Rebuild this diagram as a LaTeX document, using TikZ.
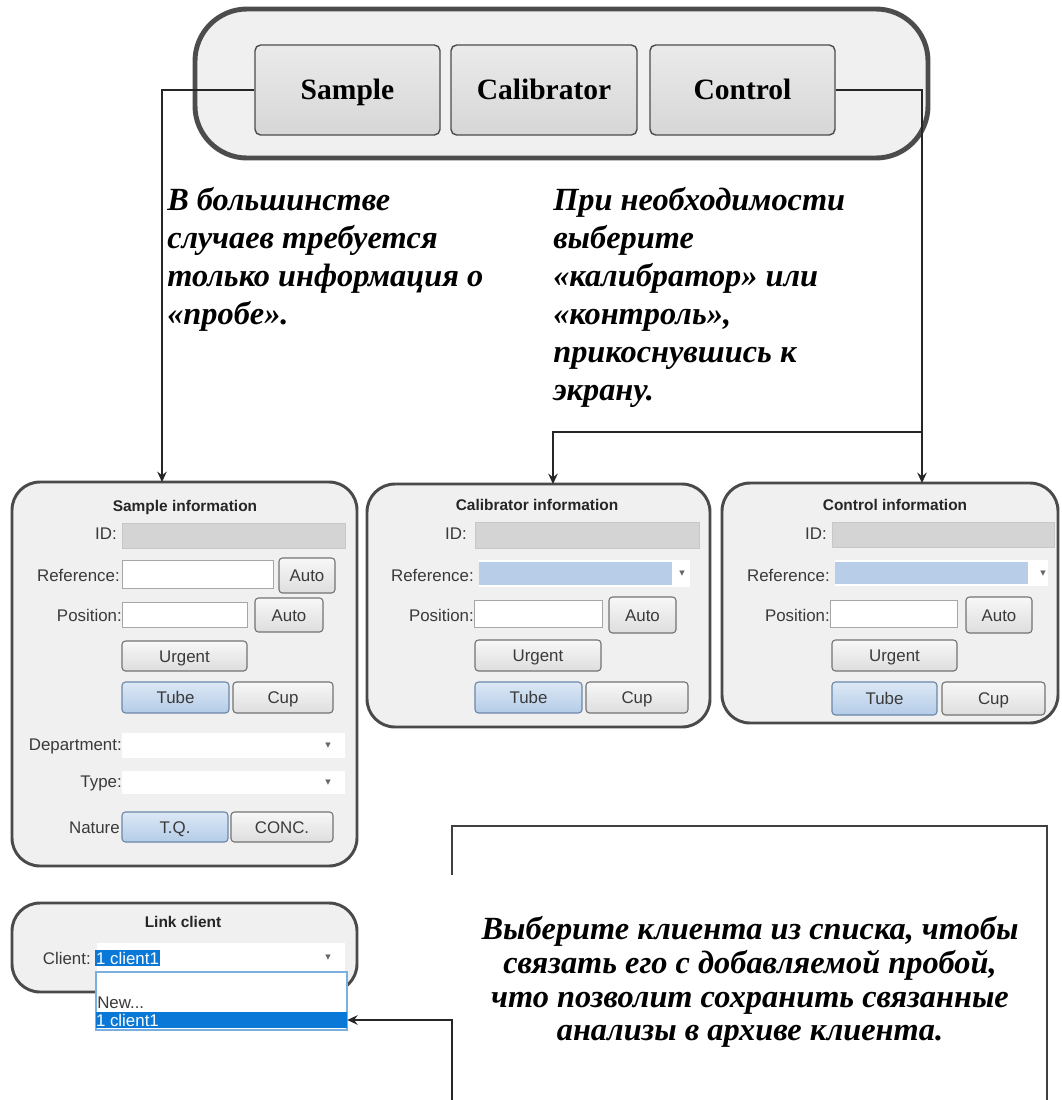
\documentclass[tikz,border=0pt]{standalone}
\usepackage{fontspec}
\setmainfont{Liberation Serif}
\newfontfamily\uifont{Liberation Sans}
\newfontfamily\djvfont{DejaVu Sans}
\usetikzlibrary{arrows.meta}
\definecolor{panelgray}{HTML}{F0F0F0}
\definecolor{paneledge}{HTML}{4A4A4A}
\definecolor{uitext}{HTML}{3A3A3A}
\definecolor{idgray}{HTML}{D4D4D4}
\definecolor{selblue}{HTML}{B7CDE8}
\definecolor{btnbluetop}{HTML}{DCE8F5}
\definecolor{btnbluebot}{HTML}{B4CCE8}
\definecolor{btnblueedge}{HTML}{6B87A8}
\definecolor{listblue}{HTML}{7AB0E0}
\definecolor{hlblue}{HTML}{0A78D7}

\begin{document}
\begin{tikzpicture}[
  x=0.025cm, y=-0.025cm,
  sz/.style 2 args={minimum width=#1*0.025cm, minimum height=#2*0.025cm},
  ui/.style={font=\uifont\fontsize{12}{14}\selectfont, text=uitext},
  panel/.style={draw=paneledge, line width=2.1pt, rounded corners=0.7cm, fill=panelgray, inner sep=0pt},
  ttl/.style={font=\uifont\bfseries\fontsize{11}{13}\selectfont, text=black!85, inner sep=0pt},
  lbl/.style={ui, anchor=east, inner sep=0pt},
  field/.style={ui, draw=black!35, fill=white, inner sep=0pt, line width=0.6pt},
  idfield/.style={field, fill=idgray, draw=black!22},
  bluefield/.style={field, draw=none, fill=selblue},
  openfield/.style={field, draw=none},
  btn/.style={ui, draw=black!55, line width=0.8pt, rounded corners=2.5pt, top color=black!3, bottom color=black!13, inner sep=0pt, text height=8.6pt, text depth=0pt},
  bluebtn/.style={btn, draw=btnblueedge, top color=btnbluetop, bottom color=btnbluebot},
  tab/.style={draw=black!70, line width=1pt, rounded corners=4pt, top color=black!8, bottom color=black!16, font=\bfseries\fontsize{21}{24}\selectfont, inner sep=0pt, text height=13.9pt, text depth=0pt},
  note/.style={font=\bfseries\itshape\fontsize{23}{27}\selectfont, align=left, inner sep=0pt, anchor=north west},
  drop/.style={font=\djvfont\fontsize{5}{5}\selectfont, text=black!60, inner sep=0pt},
  arrow/.style={-{Stealth[length=2.6mm,width=2.4mm,inset=0.9mm]}, line width=0.9pt, draw=black!85},
  frame/.style={draw=black!75, line width=1pt}
]
\useasboundingbox (0,0) rectangle (1061,1100);

% top selector
\node[draw=black!70, line width=3.5pt, rounded corners=1.3cm, fill=panelgray, sz={733}{149}] (toppanel) at (561.5,83.5) {};
\node[tab, sz={185}{90}] (sample) at (347.5,90) {Sample};
\node[tab, sz={186}{90}] (calibrator) at (544,90) {Calibrator};
\node[tab, sz={185}{90}] (control) at (742.5,90) {Control};

% notes
\node[note] (samplenote) at (167,187) {В большинстве\\случаев требуется\\только информация о\\«пробе».};
\node[note] (choicenote) at (553,187) {При необходимости\\выберите\\«калибратор» или\\«контроль»,\\прикоснувшись к\\экрану.};

% sample information
\node[panel, sz={345}{384}] (sampleinfo) at (184.5,674) {};
\node[ttl] (stitle) at (185,507) {Sample information};
\node[lbl] (sidl) at (117,534) {ID:};
\node[idfield, sz={223}{25}] (sid) at (233.5,535.5) {};
\node[lbl] (srefl) at (120,575) {Reference:};
\node[field, sz={151}{28}] (sref) at (197.5,574) {};
\node[btn, sz={56}{35}] (srefauto) at (307,575.5) {Auto};
\node[lbl] (sposl) at (122,615) {Position:};
\node[field, sz={125}{25}] (spos) at (184.5,614.5) {};
\node[btn, sz={68}{34}] (sposauto) at (289,615) {Auto};
\node[btn, sz={125}{30}] (surgent) at (184.5,656) {Urgent};
\node[bluebtn, sz={107}{31}] (stube) at (175.5,697.5) {Tube};
\node[btn, sz={100}{31}] (scup) at (283,697.5) {Cup};
\node[lbl] (sdeptl) at (122,746) {Department:};
\node[openfield, sz={223}{25}] (sdept) at (233.5,745.5) {};
\node[drop] (sdeptd) at (328,746) {▼};
\node[lbl] (stypel) at (122,783) {Type:};
\node[openfield, sz={223}{23}] (stype) at (233.5,782.5) {};
\node[drop] (stype) at (328,783) {▼};
\node[lbl] (snatl) at (120,828) {Nature};
\node[bluebtn, sz={106}{30}] (stq) at (175,827) {T.Q.};
\node[btn, sz={102}{30}] (sconc) at (282,827) {CONC.};

% calibrator information
\node[panel, sz={343}{243}] (calinfo) at (538.5,605.5) {};
\node[ttl] (ctitle) at (537,505) {Calibrator information};
\node[lbl] (cidl) at (467,534) {ID:};
\node[idfield, sz={224}{26}] (cid) at (587,535) {};
\node[lbl] (crefl) at (474,575) {Reference:};
\node[openfield, sz={211}{27}] (crefbg) at (584.5,573.5) {};
\node[bluefield, sz={193}{23}] (cref) at (575.5,573.5) {};
\node[drop] (crefd) at (682,574) {▼};
\node[lbl] (cposl) at (474,615) {Position:};
\node[field, sz={128}{27}] (cpos) at (538,613.5) {};
\node[btn, sz={67}{36}] (cposauto) at (642.5,615) {Auto};
\node[btn, sz={126}{31}] (curgent) at (538,655.5) {Urgent};
\node[bluebtn, sz={107}{31}] (ctube) at (528.5,697.5) {Tube};
\node[btn, sz={102}{31}] (ccup) at (637,697.5) {Cup};

% control information
\node[panel, sz={336}{240}] (ctrlinfo) at (890,603) {};
\node[ttl] (ktitle) at (895,505) {Control information};
\node[lbl] (kidl) at (827,534) {ID:};
\node[idfield, sz={222}{25}] (kid) at (943,534.5) {};
\node[lbl] (krefl) at (830,575) {Reference:};
\node[openfield, sz={213}{26}] (krefbg) at (941.5,573) {};
\node[bluefield, sz={193}{22}] (kref) at (931.5,573) {};
\node[drop] (krefd) at (1043,574) {▼};
\node[lbl] (kposl) at (830,615) {Position:};
\node[field, sz={127}{27}] (kpos) at (893.5,613.5) {};
\node[btn, sz={66}{36}] (kposauto) at (999,615) {Auto};
\node[btn, sz={125}{31}] (kurgent) at (894.5,655.5) {Urgent};
\node[bluebtn, sz={105}{33}] (ktube) at (884.5,698.5) {Tube};
\node[btn, sz={103}{33}] (kcup) at (993.5,698.5) {Cup};

% link client
\node[panel, sz={345}{89}] (linkpanel) at (184.5,947.5) {};
\node[ttl] (ltitle) at (183,922) {Link client};
\node[lbl] (lclientl) at (91,958) {Client:};
\node[openfield, sz={248}{30}] (lclient) at (221,958) {};
\node[ui, fill=hlblue, text=white, inner sep=1pt] (lcur) at (127.5,958) {1 client1};
\node[drop] (lclientd) at (328,958) {▼};
\node[draw=listblue, line width=0.8pt, fill=white, sz={251}{58}, inner sep=0pt] (clientlist) at (221.5,1001) {};
\node[ui, anchor=west, inner sep=0pt] (newitem) at (97,1003) {New...};
\node[fill=hlblue, sz={251}{16}, inner sep=0pt] (clientsel) at (221.5,1020) {};
\node[ui, text=white, anchor=west, inner sep=0pt] (selitem) at (clientsel.west) {1 client1};

% client note
\node[font=\bfseries\itshape\fontsize{23}{24}\selectfont, align=center, inner sep=0pt] (linknote) at (750,982) {Выберите клиента из списка, чтобы\\связать его с добавляемой пробой,\\что позволит сохранить связанные\\анализы в архиве клиента.};
\draw[frame] (452,875) |- (1047,826) -- (1047,1100);

% connectors
\coordinate (sampin) at (162,482);
\coordinate (ctrlin) at (922,483);
\coordinate (calin) at (553,484);
\coordinate (split) at (922,432);
\coordinate (notefoot) at (452,1100);
\draw[arrow] (sample.west) -| (sampin);
\draw[arrow] (control.east) -| (ctrlin);
\draw[arrow] (split) -| (calin);
\draw[arrow] (notefoot) |- (clientsel.east);
\end{tikzpicture}
\end{document}
